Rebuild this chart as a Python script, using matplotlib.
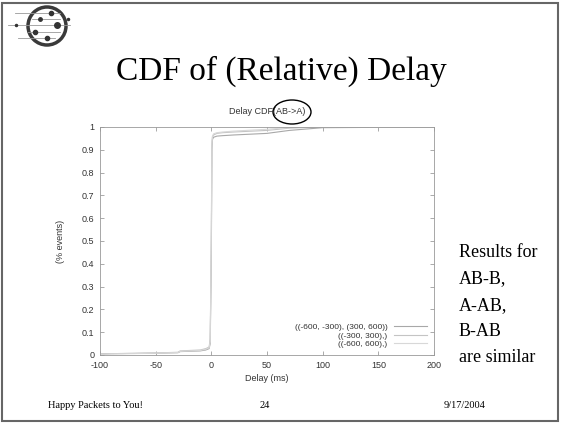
import matplotlib.pyplot as plt
from matplotlib.patches import Ellipse, Rectangle
from matplotlib.lines import Line2D

plt.rcParams["axes.unicode_minus"] = False

W, H = 561, 424

# CDF data
delay_ms = [-100, -90, -70, -50, -30, -28, -10, -5, -2, -1, 0, 0.5, 1, 2, 5, 10, 20, 50, 70, 100, 200]
cdf_far = [0.004, 0.006, 0.007, 0.008, 0.010, 0.015, 0.018, 0.022, 0.028, 0.05, 0.45, 0.90, 0.945, 0.955, 0.960, 0.962, 0.965, 0.972, 0.985, 0.997, 1.0]
cdf_mid = [0.004, 0.006, 0.007, 0.009, 0.012, 0.018, 0.022, 0.028, 0.035, 0.07, 0.50, 0.92, 0.955, 0.965, 0.972, 0.975, 0.978, 0.985, 0.995, 1.0, 1.0]
cdf_near = [0.003, 0.005, 0.006, 0.008, 0.011, 0.016, 0.020, 0.025, 0.032, 0.06, 0.55, 0.93, 0.960, 0.970, 0.975, 0.978, 0.982, 0.990, 0.998, 1.0, 1.0]

labels = ["((-600, -300), (300, 600))", "((-300, 300),)", "((-600, 600),)"]
colors = ["#a8a8a8", "#c4c4c4", "#d8d8d8"]

bullets = ["Results for", "AB-B,", "A-AB,", "B-AB", "are similar"]


def fx(x):
    return x / W


def fy(y):
    return 1 - y / H


fig = plt.figure(figsize=(W / 100, H / 100), dpi=100)

# slide frame
fig.patches.append(Rectangle((fx(2), fy(421)), fx(556), 418 / H, transform=fig.transFigure,
                             fill=False, edgecolor="#666666", lw=1.5))

# logo
fig.patches.append(Ellipse((fx(47), fy(26)), 38 / W, 38 / H, transform=fig.transFigure, fill=False,
                           edgecolor="#3a3a3a", lw=2.5))
for (x0, x1, y) in [(15, 60, 13), (32, 60, 19), (8, 70, 25), (28, 60, 32), (18, 55, 38)]:
    fig.lines.append(Line2D([fx(x0), fx(x1)], [fy(y), fy(y)], transform=fig.transFigure,
                            color="#999999", lw=0.6))
for (x, y, s) in [(51, 13, 3), (40, 19, 2.5), (57, 25, 4), (35, 32, 3), (47, 38, 3), (16, 25, 1.5), (68, 19, 1.5)]:
    fig.lines.append(Line2D([fx(x)], [fy(y)], transform=fig.transFigure, marker="o",
                            markersize=s, color="#333333", lw=0))

fig.text(fx(281), fy(80), "CDF of (Relative) Delay", family="Liberation Serif",
         fontsize=24, ha="center", va="baseline")

ax = fig.add_axes([fx(100), fy(355), fx(334), (355 - 127) / H])
for d, lab, col in zip([cdf_far, cdf_mid, cdf_near], labels, colors):
    ax.plot(delay_ms, d, color=col, lw=0.8, label=lab)

ax.set_xlim(-100, 200)
ax.set_ylim(0, 1)
ax.set_xticks(range(-100, 201, 50))
ax.set_yticks([i / 10 for i in range(11)])
ax.set_yticklabels(["0"] + ["0.%d" % i for i in range(1, 10)] + ["1"])
ax.tick_params(direction="in", length=3, width=0.5, labelsize=6.5, top=True, right=True,
               colors="#888888", labelcolor="#333333", pad=4)
for s in ax.spines.values():
    s.set_color("#999999")
    s.set_linewidth(0.6)
for t in ax.get_xticklabels() + ax.get_yticklabels():
    t.set_family("Liberation Sans")

ax.set_xlabel("Delay (ms)", family="Liberation Sans", fontsize=6.5, color="#333333", labelpad=3)
ax.set_ylabel("(% events)", family="Liberation Sans", fontsize=6.5, color="#333333", labelpad=12)
ax.set_title("Delay CDF(AB->A)", family="Liberation Sans", fontsize=6.5, color="#333333", pad=9)

leg = ax.legend(loc="lower right", frameon=False, markerfirst=False,
                handlelength=4, labelspacing=0.1, borderaxespad=0.4,
                prop={"family": "Liberation Sans", "size": 6})
for t in leg.get_texts():
    t.set_color("#333333")

# hand-drawn circle round the series name
fig.patches.append(Ellipse((fx(292), fy(112)), 38 / W, 24 / H, transform=fig.transFigure,
                           fill=False, edgecolor="black", lw=1))

for i, b in enumerate(bullets):
    fig.text(fx(459), fy(257 + 26.3 * i), b, family="Liberation Serif", fontsize=13,
             ha="left", va="baseline")

fig.text(fx(48), fy(405), "Happy Packets to You!", family="Liberation Serif", fontsize=7.5, va="center")
fig.text(fx(265), fy(405), "24", family="Liberation Serif", fontsize=7.5, va="center", ha="center")
fig.text(fx(465), fy(405), "9/17/2004", family="Liberation Serif", fontsize=7.5, va="center", ha="center")

fig.savefig("out.png", dpi=100)
